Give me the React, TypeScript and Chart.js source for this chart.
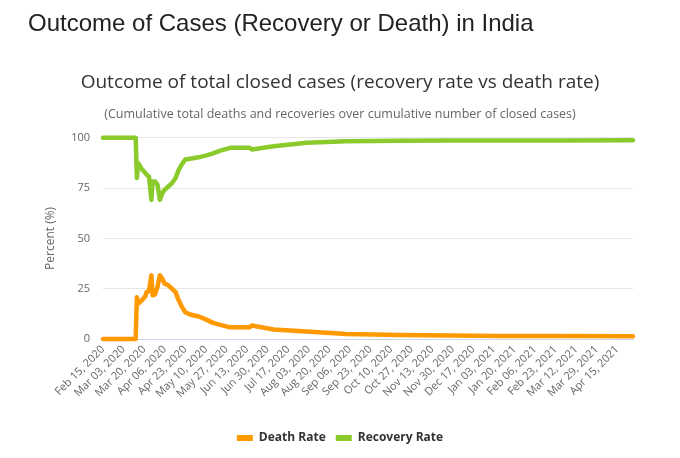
import { useEffect, useRef } from "react";
import { Chart, registerables } from "chart.js";

Chart.register(...registerables);

// Tick labels every 17 days starting Feb 15, 2020
const tickLabels = [
  "Feb 15, 2020", "Mar 03, 2020", "Mar 20, 2020", "Apr 06, 2020", "Apr 23, 2020",
  "May 10, 2020", "May 27, 2020", "Jun 13, 2020", "Jun 30, 2020", "Jul 17, 2020",
  "Aug 03, 2020", "Aug 20, 2020", "Sep 06, 2020", "Sep 23, 2020", "Oct 10, 2020",
  "Oct 27, 2020", "Nov 13, 2020", "Nov 30, 2020", "Dec 17, 2020", "Jan 03, 2021",
  "Jan 20, 2021", "Feb 06, 2021", "Feb 23, 2021", "Mar 12, 2021", "Mar 29, 2021",
  "Apr 15, 2021",
];
const tickStepDays = 17;
const lastDay = 438;

// Days since Feb 15, 2020
const dayIndex = [
  0, 27, 28, 29, 32, 35, 36, 38, 40, 41, 43, 45, 47, 49, 51, 54, 57, 60, 62, 65,
  68, 72, 79, 84, 91, 97, 105, 121, 123, 141, 168, 201, 245, 287, 328, 380, 438,
];
const deathRate = [
  0, 0, 20.8, 17.5, 19.2, 21.2, 23.3, 23.8, 31.7, 21.7, 22.2, 25.8, 31.7, 30, 27.5, 26.7, 25, 23.3, 20, 16.2,
  13.3, 12.2, 11.2, 10, 8, 7, 5.8, 5.8, 6.7, 4.7, 3.7, 2.5, 2.0, 1.7, 1.5, 1.45, 1.4,
];
const recoveryRate = [
  100, 100, 80, 87.5, 84.5, 82.5, 81.7, 80.8, 69.2, 78.3, 78.3, 76.7, 69.2, 72.5, 74.2, 75.8, 77.5, 80, 83.3, 86.7,
  89.2, 89.6, 90.3, 91, 92.3, 93.6, 95, 95.1, 94.2, 95.8, 97.5, 98.3, 98.5, 98.6, 98.7, 98.7, 98.8,
];

const FONT = "'Open Sans', sans-serif";

export default function App() {
  const ref = useRef<HTMLCanvasElement>(null);

  useEffect(() => {
    document.body.style.margin = "0";
    const canvas = ref.current;
    if (!canvas) return;
    const lineStyle = {
      borderWidth: 4.5,
      pointRadius: 0,
      tension: 0,
      borderJoinStyle: "round",
      borderCapStyle: "round",
      clip: false,
      yAxisID: "y",
    };
    const chart = new Chart(canvas, {
      type: "line",
      data: {
        datasets: [
          {
            label: "Death Rate",
            data: dayIndex.map((d, i) => ({ x: d, y: deathRate[i] })),
            borderColor: "#FF9900",
            backgroundColor: "#FF9900",
            ...lineStyle,
          },
          {
            label: "Recovery Rate",
            data: dayIndex.map((d, i) => ({ x: d, y: recoveryRate[i] })),
            borderColor: "#8ACA2B",
            backgroundColor: "#8ACA2B",
            ...lineStyle,
          },
        ],
      },
      options: {
        responsive: false,
        animation: false,
        events: [],
        layout: { padding: { left: 0, right: 0, top: 0, bottom: 4 } },
        plugins: {
          title: {
            display: true,
            text: "Outcome of total closed cases (recovery rate vs death rate)",
            color: "#333333",
            font: { family: FONT, size: 19, weight: "normal" },
            padding: { top: 71, bottom: 8 },
          },
          subtitle: {
            display: true,
            text: "(Cumulative total deaths and recoveries over cumulative number of closed cases)",
            color: "#666666",
            font: { family: FONT, size: 12.5, weight: "normal" },
            padding: { top: 5, bottom: 16 },
          },
          legend: {
            position: "bottom",
            labels: {
              boxWidth: 16,
              boxHeight: 6,
              padding: 10,
              color: "#333333",
              font: { family: FONT, size: 12, weight: "bold" },
              generateLabels: (c: any) =>
                Chart.defaults.plugins.legend.labels
                  .generateLabels(c)
                  .map((l: any) => ({ ...l, lineWidth: 0 })),
            },
          },
          tooltip: { enabled: false },
        },
        scales: {
          x: {
            type: "linear",
            min: 0,
            max: lastDay,
            grid: { display: false, drawTicks: false },
            border: { display: true, color: "#ccd6eb", width: 1 },
            ticks: {
              stepSize: tickStepDays,
              includeBounds: false,
              autoSkip: false,
              maxRotation: 45,
              minRotation: 45,
              padding: 4,
              color: "#666666",
              font: { family: FONT, size: 11 },
              callback: (v: any) => tickLabels[Math.round(Number(v) / tickStepDays)] ?? "",
            },
            afterFit: (s: any) => {
              s.height = 83;
            },
          },
          y: {
            position: "left",
            min: 0,
            max: 100,
            grid: { color: "#e6e6e6", drawTicks: false },
            border: { display: false },
            ticks: {
              stepSize: 25,
              padding: 13,
              color: "#666666",
              font: { family: FONT, size: 11 },
            },
            title: {
              display: true,
              text: "Percent (%)",
              color: "#666666",
              font: { family: FONT, size: 12 },
              padding: { top: 43, bottom: 0 },
            },
            afterFit: (s: any) => {
              s.width = 103;
            },
          },
          yR: {
            position: "right",
            min: 0,
            max: 1,
            grid: { display: false },
            border: { display: false },
            ticks: { display: false },
            afterFit: (s: any) => {
              s.width = 47;
            },
          },
        },
      },
    } as any);
    return () => chart.destroy();
  }, []);

  return (
    <div style={{ position: "relative", width: 680, height: 458, background: "#ffffff" }}>
      <canvas
        ref={ref}
        width={680}
        height={458}
        style={{ position: "absolute", left: 0, top: 0, width: 680, height: 458 }}
      />
      <div
        style={{
          position: "absolute",
          left: 28,
          top: 11,
          fontFamily: "'Liberation Sans', Arial, sans-serif",
          fontSize: 24,
          lineHeight: "24px",
          color: "#222222",
          whiteSpace: "nowrap",
        }}
      >
        Outcome of Cases (Recovery or Death) in India
      </div>
    </div>
  );
}
